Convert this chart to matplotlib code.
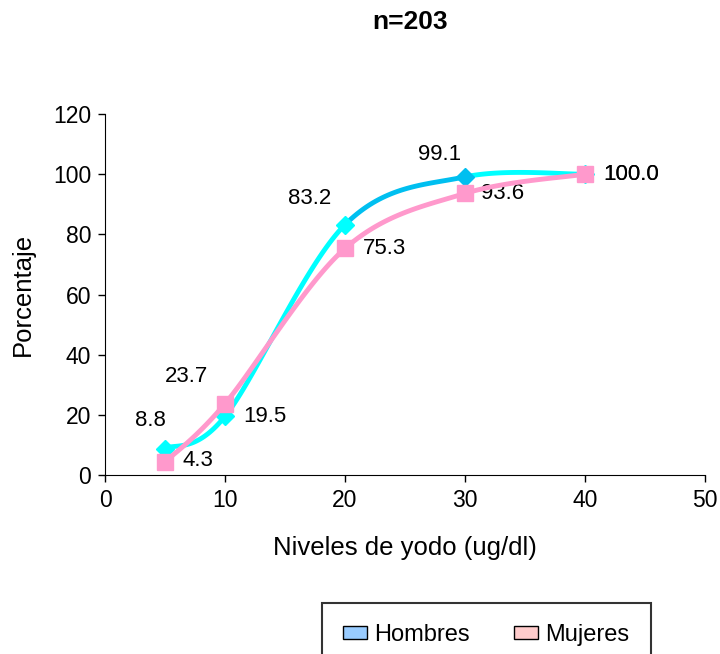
import numpy as np
import matplotlib.pyplot as plt
from matplotlib.patches import Patch

plt.rcParams['font.family'] = ['Liberation Sans', 'DejaVu Sans']

niveles = [5, 10, 20, 30, 40]
hombres = [8.8, 19.5, 83.2, 99.1, 100.0]
mujeres = [4.3, 23.7, 75.3, 93.6, 100.0]
etiquetas = ['Hombres', 'Mujeres']


def suavizar(x, y, sx, sy, n=40):
    # catmull-rom style smoothing done in pixel-like space
    p = np.column_stack([np.array(x) * sx, np.array(y) * sy])
    pts = np.vstack([p[0], p, p[-1]])
    out = []
    for i in range(1, len(pts) - 2):
        p0, p1, p2, p3 = pts[i - 1], pts[i], pts[i + 1], pts[i + 2]
        c1 = p1 + (p2 - p0) / 6
        c2 = p2 - (p3 - p1) / 6
        t = np.linspace(0, 1, n)[:, None]
        seg = (1 - t) ** 3 * p1 + 3 * (1 - t) ** 2 * t * c1 + 3 * (1 - t) * t ** 2 * c2 + t ** 3 * p2
        out.append(seg)
    return [(s[:, 0] / sx, s[:, 1] / sy) for s in out]


fig = plt.figure(figsize=(7.2, 6.54), dpi=100)
ax = fig.add_axes([105 / 720, 1 - 475 / 654, 600 / 720, 361 / 654])

sx, sy = 12.0, 3.0
seg_cols = ['#00FFFF', '#00FFFF', '#00BFF0', '#00FFFF']
for s, c in zip(suavizar(niveles, hombres, sx, sy), seg_cols):
    ax.plot(s[0], s[1], color=c, lw=3.5, solid_capstyle='round', zorder=2)
mk_cols = ['#00FFFF', '#00FFFF', '#00FFFF', '#00BFF0', '#00FFFF']
for xi, yi, c in zip(niveles, hombres, mk_cols):
    ax.plot(xi, yi, marker='D', ms=9, color=c, zorder=3)

for s in suavizar(niveles, mujeres, sx, sy):
    ax.plot(s[0], s[1], color='#FF99CC', lw=3.5, solid_capstyle='round', zorder=4)
ax.plot(niveles, mujeres, 's', ms=11.5, color='#FF99CC', zorder=5)

fs = 16
k = 0.72  # pixels -> points
off_h = [(-15, 28), (40, 0), (-35, 26), (-25, 22), (46, 0)]
for xi, yi, o in zip(niveles, hombres, off_h):
    ax.annotate(f'{yi:.1f}', (xi, yi), xytext=(o[0] * k, o[1] * k),
                textcoords='offset points', ha='center', va='center', fontsize=fs)
off_m = [(33, 2), (-38, 27), (39, 0), (38, 0), (46, 0)]
for xi, yi, o in zip(niveles, mujeres, off_m):
    ax.annotate(f'{yi:.1f}', (xi, yi), xytext=(o[0] * k, o[1] * k),
                textcoords='offset points', ha='center', va='center', fontsize=fs)

ax.set_xlim(0, 50)
ax.set_ylim(0, 120)
ax.set_xticks(range(0, 51, 10))
ax.set_yticks(range(0, 121, 20))
ax.tick_params(direction='out', length=5, labelsize=16.5, width=1, pad=5)
for sp in ['top', 'right']:
    ax.spines[sp].set_visible(False)
ax.set_xlabel('Niveles de yodo (ug/dl)', fontsize=18.5, labelpad=17)
ax.set_ylabel('Porcentaje', fontsize=18.5, labelpad=13)

fig.text(410 / 720, 1 - 22 / 654, 'n=203', ha='center', va='center',
         fontsize=19, fontweight='bold')

handles = [Patch(facecolor='#99CCFF', edgecolor='black'),
           Patch(facecolor='#FFCCCC', edgecolor='black')]
leg = fig.legend(handles, etiquetas, loc='upper left', ncol=2,
                 bbox_to_anchor=(322 / 720, 1 - 603 / 654), fontsize=17,
                 frameon=True, fancybox=False, edgecolor='black',
                 handlelength=1.0, handleheight=0.45, handletextpad=0.3,
                 columnspacing=1.9, borderpad=0.9, borderaxespad=0)
leg.get_frame().set_linewidth(1.5)

fig.savefig('out.png', dpi=100)
